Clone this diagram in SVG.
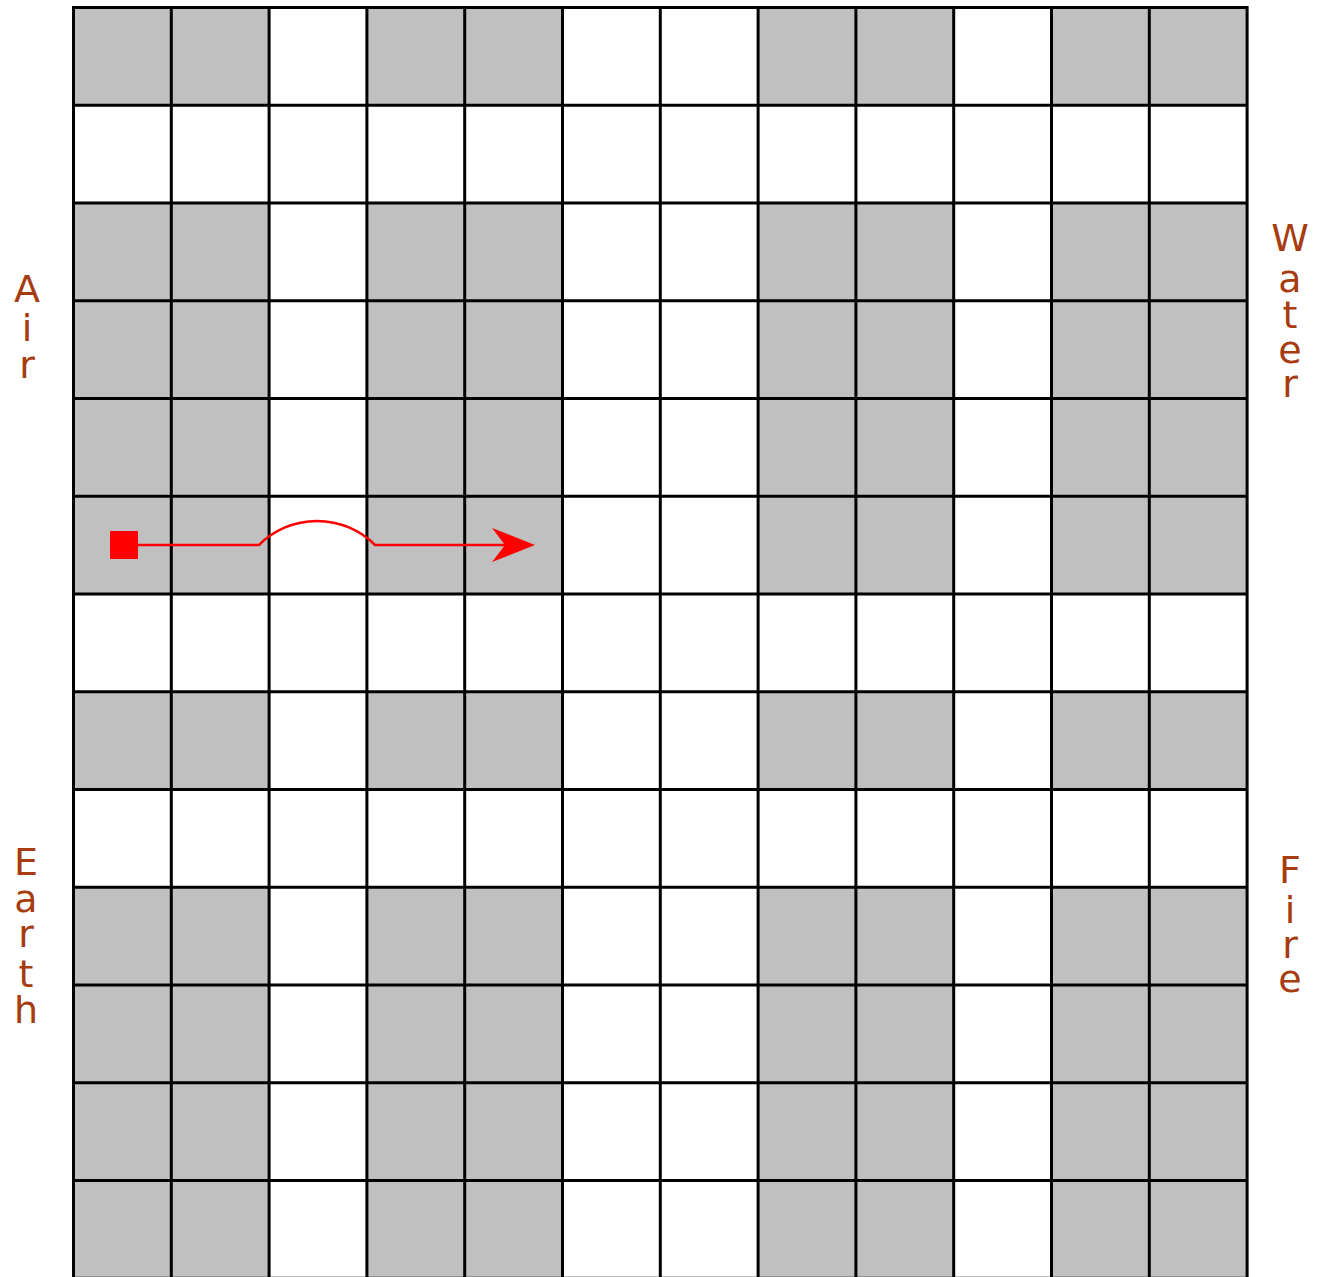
<svg xmlns="http://www.w3.org/2000/svg" width="1319" height="1277" viewBox="0 0 1319 1277">
  <style>
    .g { fill: #c0c0c0; }
    .lines { fill: none; stroke: #000; stroke-width: 3; }
    .lbl { font-family: "DejaVu Sans", "Liberation Sans", sans-serif; font-size: 38px; fill: #a63c10; text-anchor: middle; }
    .conn { fill: none; stroke: #ff0000; stroke-width: 2.5; }
  </style>
  <defs>
    <marker id="sq" markerUnits="userSpaceOnUse" viewBox="0 0 28 28" refX="14" refY="14" markerWidth="28" markerHeight="28" orient="auto">
      <rect x="0" y="0" width="28" height="28" fill="#ff0000"/>
    </marker>
    <marker id="arr" markerUnits="userSpaceOnUse" viewBox="0 0 43 34" refX="38" refY="17" markerWidth="43" markerHeight="34" orient="auto">
      <path d="M0,0 L43,17 L0,34 L13,17 Z" fill="#ff0000"/>
    </marker>
  </defs>
  <rect x="0" y="0" width="1319" height="1277" fill="#fff"/>
  <g id="board">
    <!-- gray cells: column pairs 0-1, 3-4, 7-8, 10-11; rows 0, 2-5, 7, 9-12 -->
    <g id="gray-cells">
      <rect class="g" x="73.5" y="7.5" width="195.6" height="97.75"/>
      <rect class="g" x="366.9" y="7.5" width="195.6" height="97.75"/>
      <rect class="g" x="758.1" y="7.5" width="195.6" height="97.75"/>
      <rect class="g" x="1051.5" y="7.5" width="195.6" height="97.75"/>

      <rect class="g" x="73.5" y="203" width="195.6" height="391"/>
      <rect class="g" x="366.9" y="203" width="195.6" height="391"/>
      <rect class="g" x="758.1" y="203" width="195.6" height="391"/>
      <rect class="g" x="1051.5" y="203" width="195.6" height="391"/>

      <rect class="g" x="73.5" y="691.75" width="195.6" height="97.75"/>
      <rect class="g" x="366.9" y="691.75" width="195.6" height="97.75"/>
      <rect class="g" x="758.1" y="691.75" width="195.6" height="97.75"/>
      <rect class="g" x="1051.5" y="691.75" width="195.6" height="97.75"/>

      <rect class="g" x="73.5" y="887.25" width="195.6" height="391"/>
      <rect class="g" x="366.9" y="887.25" width="195.6" height="391"/>
      <rect class="g" x="758.1" y="887.25" width="195.6" height="391"/>
      <rect class="g" x="1051.5" y="887.25" width="195.6" height="391"/>
    </g>
    <path id="grid-lines" class="lines" d="
      M73.5,7.5 V1278.25 M171.3,7.5 V1278.25 M269.1,7.5 V1278.25 M366.9,7.5 V1278.25
      M464.7,7.5 V1278.25 M562.5,7.5 V1278.25 M660.3,7.5 V1278.25 M758.1,7.5 V1278.25
      M855.9,7.5 V1278.25 M953.7,7.5 V1278.25 M1051.5,7.5 V1278.25 M1149.3,7.5 V1278.25
      M1247.1,7.5 V1278.25
      M72,7.5 H1248.6 M72,105.25 H1248.6 M72,203 H1248.6 M72,300.75 H1248.6
      M72,398.5 H1248.6 M72,496.25 H1248.6 M72,594 H1248.6 M72,691.75 H1248.6
      M72,789.5 H1248.6 M72,887.25 H1248.6 M72,985 H1248.6 M72,1082.75 H1248.6
      M72,1180.5 H1248.6 M72,1278.25 H1248.6"/>
  </g>
  <g id="label-air">
    <text class="lbl"><tspan x="27" y="302">A</tspan><tspan x="27" y="341">i</tspan><tspan x="27" y="378">r</tspan></text>
  </g>
  <g id="label-water">
    <text class="lbl"><tspan x="1290" y="251">W</tspan><tspan x="1290" y="292">a</tspan><tspan x="1290" y="328">t</tspan><tspan x="1290" y="363">e</tspan><tspan x="1290" y="397">r</tspan></text>
  </g>
  <g id="label-earth">
    <text class="lbl"><tspan x="26" y="875">E</tspan><tspan x="26" y="912">a</tspan><tspan x="26" y="947">r</tspan><tspan x="26" y="987">t</tspan><tspan x="26" y="1023">h</tspan></text>
  </g>
  <g id="label-fire">
    <text class="lbl"><tspan x="1290" y="883">F</tspan><tspan x="1290" y="923">i</tspan><tspan x="1290" y="958">r</tspan><tspan x="1290" y="992">e</tspan></text>
  </g>
  <g id="connectors">
    <path class="conn" marker-start="url(#sq)" marker-end="url(#arr)" d="M124,545 L259,545 A82,82 0 0 1 375,545 L530,545"/>
  </g>
</svg>
